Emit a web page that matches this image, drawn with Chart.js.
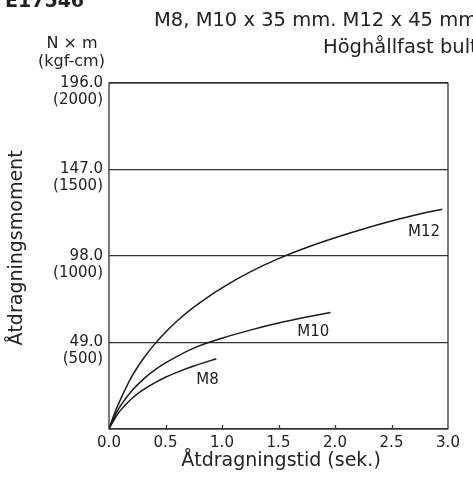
<!DOCTYPE html>
<html>
<head>
<meta charset="utf-8">
<script src="https://cdn.jsdelivr.net/npm/chart.js@4"></script>
<style>
  html, body { margin: 0; padding: 0; background: #fff; }
  #wrap { width: 473px; height: 482px; position: relative; }
</style>
</head>
<body>
<div id="wrap"><canvas id="myChart"></canvas></div>
<script>
// data
var m12Time   = [0, 0.05, 0.1, 0.2, 0.3, 0.4, 0.5, 0.6, 0.75, 0.9, 1.0, 1.25, 1.5, 1.75, 2.0, 2.25, 2.5, 2.75, 2.95];
var m12Torque = [0, 9, 16.5, 29.5, 39.5, 47.8, 54.8, 61, 69, 75.8, 80, 89, 96.5, 102.8, 108.3, 113.3, 117.8, 121.8, 124.5];
var m10Time   = [0, 0.05, 0.1, 0.2, 0.3, 0.4, 0.5, 0.75, 1.0, 1.25, 1.5, 1.75, 1.96];
var m10Torque = [0, 7.2, 13, 21.5, 28, 33.2, 37.4, 45.8, 51.4, 56, 60, 63.4, 66];
var m8Time    = [0, 0.05, 0.1, 0.2, 0.3, 0.4, 0.5, 0.6, 0.75, 0.95];
var m8Torque  = [0, 5.8, 10.4, 17.1, 22.1, 26, 29.3, 32.1, 35.7, 39.8];

var xTicks = [0, 0.5, 1, 1.5, 2, 2.5, 3];
var xTickLabels = ['0.0', '0.5', '1.0', '1.5', '2.0', '2.5', '3.0'];
var yTicks = [0, 49, 98, 147, 196];
var yTickLabels = ['', ['49.0', '(500)'], ['98.0', '(1000)'], ['147.0', '(1500)'], ['196.0', '(2000)']];

var seriesNames = ['M12', 'M10', 'M8'];
// label anchors in data units (left, baseline)
var labelAt = [[2.646, 109.6], [1.666, 52.4], [0.773, 25.3]];

function pts(xs, ys) {
    return xs.map(function (x, i) { return {x: x, y: ys[i]}; });
}

var ink = '#222';
Chart.defaults.font.family = 'DejaVu Sans';
Chart.defaults.color = ink;

var decor = {
    id: 'decor',
    beforeDatasetsDraw: function (chart) {
        var c = chart.ctx, a = chart.chartArea, xs = chart.scales.x;
        c.save();
        c.strokeStyle = '#333';
        c.lineWidth = 1.3;
        c.strokeRect(a.left, a.top, a.right - a.left, a.bottom - a.top);
        // small inward ticks on the time axis
        xTicks.slice(1, -1).forEach(function (v) {
            var px = Math.round(xs.getPixelForValue(v)) + 0.5;
            c.beginPath();
            c.moveTo(px, a.bottom);
            c.lineTo(px, a.bottom - 4);
            c.stroke();
        });
        c.restore();
    },
    afterDraw: function (chart) {
        var c = chart.ctx, xs = chart.scales.x, ys = chart.scales.y;
        c.save();
        c.fillStyle = ink;
        c.textBaseline = 'alphabetic';

        c.font = 'bold 19px "DejaVu Sans"';
        c.textAlign = 'left';
        c.fillText('E17546', 5, 7);

        c.font = '19.5px "DejaVu Sans"';
        c.fillText('M8, M10 x 35 mm. M12 x 45 mm', 154, 26);
        c.fillText('Höghållfast bult', 323, 53.3);

        c.font = '16px "DejaVu Sans"';
        c.textAlign = 'center';
        c.fillText('N × m', 72, 48.3);
        c.fillText('(kgf-cm)', 71.5, 66);

        c.font = '19px "DejaVu Sans"';
        c.fillText('Åtdragningstid (sek.)', 281, 466);

        c.save();
        c.translate(22, 248);
        c.rotate(-Math.PI / 2);
        c.fillText('Åtdragningsmoment', 0, 0);
        c.restore();

        c.font = '15px "DejaVu Sans"';
        c.textAlign = 'left';
        seriesNames.forEach(function (n, i) {
            c.fillText(n, xs.getPixelForValue(labelAt[i][0]), ys.getPixelForValue(labelAt[i][1]));
        });
        c.restore();
    }
};

function lineSet(name, xs, ys) {
    return {
        label: name,
        data: pts(xs, ys),
        borderColor: '#1a1a1a',
        borderWidth: 1.5,
        pointRadius: 0,
        fill: false,
        cubicInterpolationMode: 'monotone'
    };
}

var ctx = document.getElementById('myChart').getContext('2d');
var myChart = new Chart(ctx, {
    type: 'line',
    data: {
        datasets: [
            lineSet('M12', m12Time, m12Torque),
            lineSet('M10', m10Time, m10Torque),
            lineSet('M8', m8Time, m8Torque)
        ]
    },
    options: {
        responsive: true,
        maintainAspectRatio: false,
        animation: false,
        events: [],
        layout: { padding: { top: 83, right: 25, left: 0, bottom: 0 } },
        plugins: {
            legend: { display: false },
            title: { display: false },
            tooltip: { enabled: false }
        },
        scales: {
            x: {
                type: 'linear',
                min: 0,
                max: 3,
                afterBuildTicks: function (s) { s.ticks = xTicks.map(function (v) { return {value: v}; }); },
                afterFit: function (s) { s.height = 53; },
                grid: { display: false },
                border: { display: false },
                ticks: {
                    padding: -3,
                    font: { size: 15 },
                    color: ink,
                    maxRotation: 0,
                    callback: function (v, i) { return xTickLabels[i]; }
                }
            },
            y: {
                min: 0,
                max: 196,
                afterBuildTicks: function (s) { s.ticks = yTicks.map(function (v) { return {value: v}; }); },
                afterFit: function (s) { s.width = 109; },
                grid: { color: '#333', lineWidth: 1.3, drawTicks: false },
                border: { display: false },
                ticks: {
                    padding: 6,
                    labelOffset: 8.5,
                    font: { size: 15, lineHeight: 1.13 },
                    color: ink,
                    callback: function (v, i) { return yTickLabels[i]; }
                }
            }
        }
    },
    plugins: [decor]
});
</script>
</body>
</html>
